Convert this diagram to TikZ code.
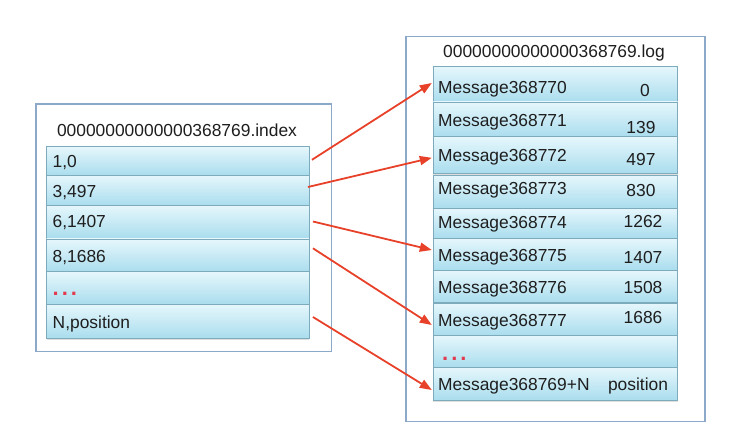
\documentclass[tikz,border=0pt]{standalone}
\usepackage{fontspec}
\setmainfont{Liberation Sans}
\usetikzlibrary{arrows.meta,shadows}
\definecolor{rowtop}{HTML}{E6F7FC}
\definecolor{rowbot}{HTML}{AADDEE}
\definecolor{rowedge}{HTML}{7DABBB}
\definecolor{boxedge}{HTML}{8DA9C9}
\definecolor{arrred}{HTML}{E8412A}
\definecolor{dotred}{HTML}{E23A4E}
\definecolor{txt}{HTML}{1E1E1E}
\begin{document}
\begin{tikzpicture}[x=1pt,y=-1pt,
  outerbox/.style={draw=boxedge,line width=1.2pt,fill=white},
  rowbox/.style={draw=rowedge,line width=0.8pt,top color=rowtop,bottom color=rowbot,
    drop shadow={shadow xshift=0pt,shadow yshift=-2pt,opacity=0.25},
    inner sep=0pt,outer sep=0pt},
  irow/.style={rowbox,minimum width=262.3pt},
  lrow/.style={rowbox,minimum width=244.4pt},
  lbl/.style={font=\fontsize{17.4}{20}\selectfont,text=txt,inner sep=0pt,anchor=base west},
  num/.style={font=\fontsize{17.4}{20}\selectfont,text=txt,inner sep=0pt,anchor=base},
  dots/.style={font=\fontsize{22}{24}\selectfont\bfseries,text=dotred,inner sep=0pt,anchor=base west},
  link/.style={draw=arrred,line width=1.8pt,-{Triangle[length=12pt,width=9pt]}}]
\useasboundingbox (0,0) rectangle (743,431);
% outer boxes
\node[outerbox,minimum width=295.7pt,minimum height=247.7pt,inner sep=0pt] (ibox) at (183.85,227.85) {};
\node[outerbox,minimum width=299pt,minimum height=385pt,inner sep=0pt] (lbox) at (555.5,229.2) {};
% titles
\node[num] (ititle) at (177,136.5) {00000000000000368769.index};
\node[num] (ltitle) at (554,57.5) {00000000000000368769.log};
% index rows
\node[irow,minimum height=28.3pt] (i1) at (177.8,160.8) {};
\node[irow,minimum height=30pt] (i2) at (177.8,190) {};
\node[irow,minimum height=33pt] (i3) at (177.8,221.5) {};
\node[irow,minimum height=32.7pt] (i4) at (177.8,255.3) {};
\node[irow,minimum height=32.3pt] (i5) at (177.8,287.8) {};
\node[irow,minimum height=34pt] (i6) at (177.8,321) {};
\node[lbl] (t1) at (52.5,167.5) {1,0};
\node[lbl] (t2) at (52.5,197) {3,497};
\node[lbl] (t3) at (52.5,227) {6,1407};
\node[lbl] (t4) at (52.5,262) {8,1686};
\node[dots] (t5) at (52.5,295) {.\hspace{3pt}.\hspace{3pt}.};
\node[lbl] (t6) at (52.5,328) {N,position};
% log rows
\node[lrow,minimum height=36pt] (l1) at (555.5,84) {};
\node[lrow,minimum height=34.7pt] (l2) at (555.5,119.3) {};
\node[lrow,minimum height=36.3pt] (l3) at (555.5,154.8) {};
\node[lrow,minimum height=33pt] (l4) at (555.5,191.5) {};
\node[lrow,minimum height=30pt] (l5) at (555.5,223) {};
\node[lrow,minimum height=32pt] (l6) at (555.5,254) {};
\node[lrow,minimum height=32pt] (l7) at (555.5,286) {};
\node[lrow,minimum height=32pt] (l8) at (555.5,319) {};
\node[lrow,minimum height=32pt] (l9) at (555.5,351) {};
\node[lrow,minimum height=33pt] (l10) at (555.5,383.5) {};
\node[lbl] (m1) at (438,93.5) {Message368770};
\node[lbl] (m2) at (438,126.7) {Message368771};
\node[lbl] (m3) at (438,161.7) {Message368772};
\node[lbl] (m4) at (438,194) {Message368773};
\node[lbl] (m5) at (438,228.5) {Message368774};
\node[lbl] (m6) at (438,261.7) {Message368775};
\node[lbl] (m7) at (438,293) {Message368776};
\node[lbl] (m8) at (438,326) {Message368777};
\node[dots] (m9) at (442,360) {.\hspace{3pt}.\hspace{3pt}.};
\node[lbl] (m10) at (438,390) {Message368769+N};
\node[num] (n1) at (645,96.7) {0};
\node[num] (n2) at (641,133) {139};
\node[num] (n3) at (641,165) {497};
\node[num] (n4) at (641,196.5) {830};
\node[num] (n5) at (643,227) {1262};
\node[num] (n6) at (643,263) {1407};
\node[num] (n7) at (643,293) {1508};
\node[num] (n8) at (643,323) {1686};
\node[num] (n10) at (638,390) {position};
% links
\draw[link] ([xshift=3pt,yshift=1pt]i1.east) -- ([xshift=-1.5pt,yshift=1pt]l1.west);
\draw[link] ([xshift=-1pt,yshift=3pt]i2.east) -- ([xshift=-1.5pt,yshift=-3pt]l3.west);
\draw[link] ([xshift=4pt]i3.east) -- ([xshift=-1.5pt,yshift=4pt]l6.west);
\draw[link] ([xshift=4pt,yshift=7pt]i4.east) -- ([xshift=-1.5pt,yshift=-6pt]l8.west);
\draw[link] ([xshift=4pt,yshift=4pt]i6.east) -- ([xshift=-1.5pt,yshift=-6.5pt]l10.west);
\end{tikzpicture}
\end{document}
